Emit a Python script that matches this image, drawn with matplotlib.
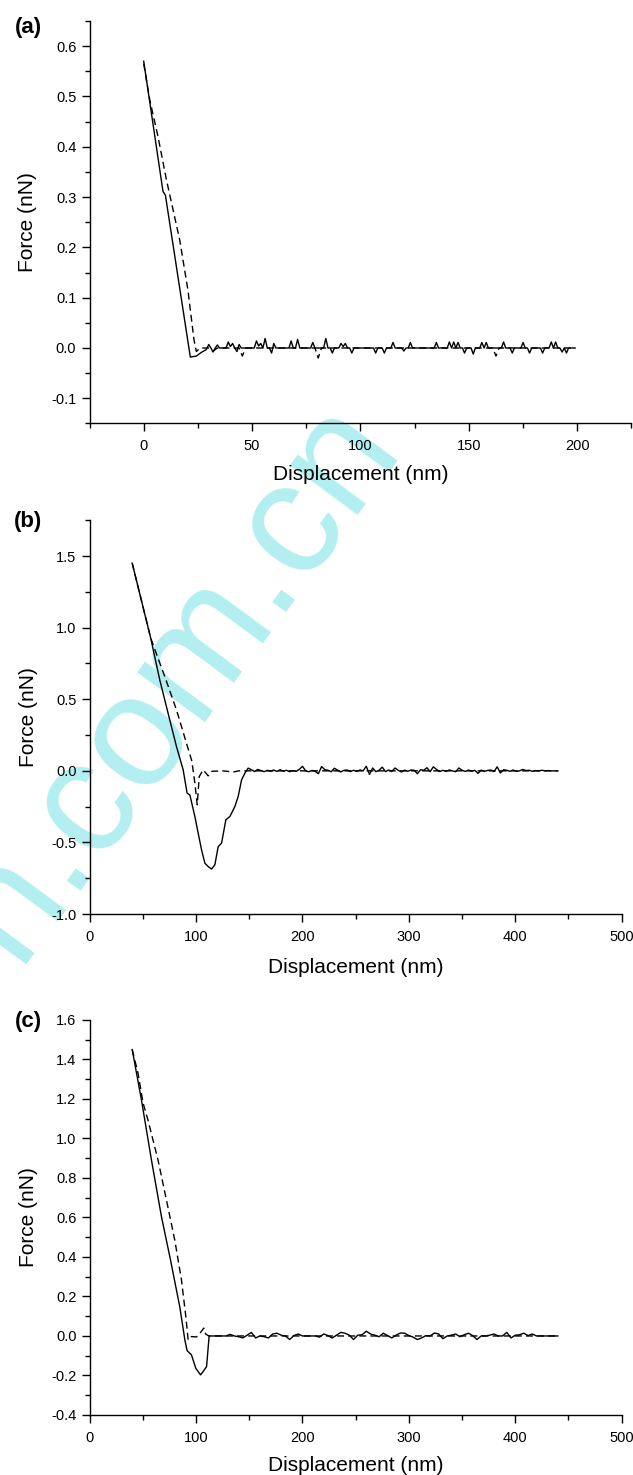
import numpy as np
import matplotlib.pyplot as plt
from matplotlib.ticker import MultipleLocator, FormatStrFormatter
from matplotlib.transforms import Bbox

plt.rcParams['font.family'] = ['Liberation Sans', 'DejaVu Sans']
plt.rcParams['axes.unicode_minus'] = False

# =============================================================================
# Panel (a) - force curves, 0-200 nm
# =============================================================================
a_retract_head_x = [0, 8.9, 10.0, 21.5, 24.3, 26.5, 28.9]
a_retract_head_y = [0.57, 0.311, 0.304, -0.018, -0.016, -0.009, -0.003]
a_noise_x = np.arange(30, 200)          # 1 nm sampling
a_noise_y = [
    0.007, 0, -0.008, 0, 0.006, 0, 0, 0, 0, 0.012,
    0.003, 0.009, 0, -0.007, 0.007, 0, 0, 0, 0, 0,
    0, 0, 0.014, 0.004, 0.009, 0, 0.019, 0, 0, -0.01,
    0.009, 0, 0, 0, 0, 0, 0, 0, 0.014, 0,
    0, 0.017, 0, 0, 0, 0, 0, 0, 0.011, 0,
    0, 0, 0, 0, 0.019, 0, 0, -0.01, 0, 0,
    0, 0.009, 0.003, 0.009, 0, 0, -0.01, 0, 0, 0,
    0, 0, 0, 0, 0, 0, 0, -0.01, 0, 0,
    0, -0.01, 0, 0, 0, 0.011, 0, 0, 0, 0,
    -0.006, 0, 0, 0.011, 0, 0, 0, 0, 0, 0,
    0, 0, 0, 0, 0, 0.011, 0, 0, 0, 0,
    0, 0.012, 0, 0.012, 0, 0.011, 0, 0, -0.01, 0,
    0, 0, -0.012, 0, 0, 0, 0.011, 0, 0.011, 0,
    0, 0, 0, 0, 0, 0, 0.012, 0, 0, 0,
    -0.01, 0, 0, 0, 0, 0.011, 0, 0, -0.01, 0,
    0, 0, 0, 0, -0.01, 0, 0, 0, 0.012, 0,
    0.012, 0, 0, -0.008, 0, -0.01, 0, 0, 0, 0,
]
a_approach_x = [0, 2.8, 6.6, 10.5, 16.6, 20.4, 23.2, 24.3, 26, 30, 32, 34,
                44, 45.5, 47, 79, 80.5, 82, 161, 162.5, 164, 199]
a_approach_y = [0.565, 0.493, 0.42, 0.334, 0.215, 0.115, 0.016, -0.007, 0.0,
                0.0, -0.006, 0.0, 0.0, -0.016, 0.0, 0.0, -0.02, 0.0, 0.0,
                -0.016, 0.0, 0.0]

# =============================================================================
# Panel (b)
# =============================================================================
b_retract_head_x = [40, 57.4, 65.9, 73.7, 81.6, 87.9, 91.6, 94.2, 98.9, 102,
                    105.2, 108.3, 111.4, 114.6, 117.7, 120.8, 124, 128, 131.8,
                    136.5, 139.6, 142.8, 145.9, 149]
b_retract_head_y = [1.45, 0.927, 0.635, 0.403, 0.17, 0.007, -0.156, -0.168,
                    -0.319, -0.435, -0.552, -0.645, -0.668, -0.686, -0.656,
                    -0.529, -0.505, -0.342, -0.319, -0.249, -0.179, -0.063,
                    -0.016, 0.019]
b_noise_x = np.arange(152, 441, 3)      # 3 nm sampling
b_noise_y = [
    0.008, -0.005, 0.01, 0.002, -0.006, 0.004, -0.003, 0.006, -0.004, 0.008,
    -0.003, 0.004, -0.006, 0.002, -0.004, 0.01, 0.032, 0.0, -0.006, 0.003,
    -0.004, -0.02, 0.03, 0.008, 0.004, -0.006, 0.018, 0.005, -0.008, 0.004,
    0.006, -0.005, 0.004, -0.004, 0.006, 0.0, 0.032, -0.025, 0.02, -0.006,
    0.004, 0.026, -0.005, 0.006, -0.004, 0.02, 0.004, -0.008, 0.005, -0.003,
    0.006, 0.004, -0.02, 0.008, 0.004, 0.022, -0.006, 0.028, 0.01, -0.005,
    0.004, -0.004, 0.006, 0.0, -0.006, 0.02, 0.004, -0.004, 0.006, -0.003,
    0.004, -0.018, 0.005, -0.004, 0.003, 0.006, -0.005, 0.028, -0.015, 0.008,
    0.004, -0.003, 0.006, -0.004, 0.0, 0.01, 0.002, 0.004, -0.003, 0.002,
    0.0, 0.004, 0.0, 0.002, 0.0, 0.0, 0.0,
]
b_approach_x = [40, 57.4, 63.7, 70.6, 81.6, 91, 96, 98.9, 101.1, 103, 106.7,
                111.4, 115, 125, 135, 140, 146, 440]
b_approach_y = [1.45, 0.927, 0.798, 0.659, 0.426, 0.193, 0.07, -0.086, -0.237,
                -0.04, 0.007, -0.035, -0.003, 0.0, -0.008, 0.0, 0.0, 0.0]

# =============================================================================
# Panel (c)
# =============================================================================
c_retract_head_x = [40, 48.7, 58.1, 67.5, 76, 84.7, 89.5, 91.6, 95.7, 99.8,
                    104.2, 106.7, 109.9, 112.3]
c_retract_head_y = [1.45, 1.195, 0.891, 0.604, 0.385, 0.148, -0.02, -0.074,
                    -0.096, -0.164, -0.197, -0.18, -0.155, 0.0]
c_noise_x = np.arange(116, 441, 4)      # 4 nm sampling
c_noise_y = [
    0, 0, 0, 0, 0.008, 0, -0.004, -0.01, 0.004, 0.018,
    -0.01, 0, -0.004, -0.01, 0.01, 0.014, 0.004, 0, -0.018, 0.002,
    0.01, 0, 0, 0, 0, -0.006, 0.01, 0.002, -0.01, 0.004,
    0.018, 0.014, 0.004, -0.018, 0.004, 0.006, 0.024, 0.01, 0.004, -0.004,
    0.014, 0.002, -0.01, 0.004, 0.015, 0.014, 0.002, -0.006, -0.018, -0.01,
    0.002, 0, 0.015, 0.01, -0.014, 0, 0.004, 0.01, -0.004, 0.006,
    0.014, 0.002, -0.018, 0, 0, 0.004, 0.01, 0, 0, 0.018,
    -0.01, 0.004, 0.006, 0.014, 0.002, 0.01, 0, 0, 0, 0,
    0, 0,
]
c_approach_x = [40, 45.5, 50.2, 54.9, 64.3, 72.2, 80, 86.3, 90.4, 92.6, 95.7,
                100.4, 103.6, 107.3, 109, 112, 440]
c_approach_y = [1.45, 1.33, 1.18, 1.092, 0.89, 0.688, 0.486, 0.284, 0.098,
                -0.02, -0.003, -0.005, 0.013, 0.04, 0.01, 0.0, 0.0]

# =============================================================================
# Layout (figure fractions) and axis settings
# =============================================================================
W, H = 633, 1475
panels = [
    dict(tag='(a)', rect=[0.1414, 0.7129, 0.8562, 0.2729], tag_xy=(28, 28),
         xlim=(-25, 225), ylim=(-0.15, 0.65), xmaj=50, xmin=25,
         ymaj=0.1, ymin=0.05, xlab_y=-0.128, ylab_x=-0.1135,
         rx=(a_retract_head_x, a_noise_x), ry=(a_retract_head_y, a_noise_y),
         ax_=a_approach_x, ay_=a_approach_y),
    dict(tag='(b)', rect=[0.1416, 0.3803, 0.8405, 0.2670], tag_xy=(28, 522),
         xlim=(0, 500), ylim=(-1.0, 1.75), xmaj=100, xmin=50,
         ymaj=0.5, ymin=0.25, xlab_y=-0.1346, ylab_x=-0.1158,
         rx=(b_retract_head_x, b_noise_x), ry=(b_retract_head_y, b_noise_y),
         ax_=b_approach_x, ay_=b_approach_y),
    dict(tag='(c)', rect=[0.1416, 0.0407, 0.8405, 0.2678], tag_xy=(28, 1021),
         xlim=(0, 500), ylim=(-0.4, 1.6), xmaj=100, xmin=50,
         ymaj=0.2, ymin=0.1, xlab_y=-0.127, ylab_x=-0.1158,
         rx=(c_retract_head_x, c_noise_x), ry=(c_retract_head_y, c_noise_y),
         ax_=c_approach_x, ay_=c_approach_y),
]

fig = plt.figure(figsize=(W / 100, H / 100), dpi=100)

# watermark, sits behind the axes and is clipped to the middle image
wm = fig.text(15.6 / W, 1 - 965 / H, "n.com.cn", rotation=53.6,
              rotation_mode='anchor', ha='left', va='baseline',
              fontsize=115, color='#b3eff0', zorder=-1)
wm.set_clip_box(Bbox.from_extents(0, H - 1000, W, H - 413))
wm.set_clip_on(True)

for p in panels:
    ax = fig.add_axes(p['rect'])
    ax.set_facecolor('none')

    xr = np.concatenate([p['rx'][0], p['rx'][1]])
    yr = np.concatenate([p['ry'][0], p['ry'][1]])
    ax.plot(p['ax_'], p['ay_'], color='black', lw=1.0, linestyle=(0, (5, 3)))
    ax.plot(xr, yr, color='black', lw=1.0)

    ax.set_xlim(*p['xlim'])
    ax.set_ylim(*p['ylim'])
    ax.xaxis.set_major_locator(MultipleLocator(p['xmaj']))
    ax.xaxis.set_minor_locator(MultipleLocator(p['xmin']))
    ax.yaxis.set_major_locator(MultipleLocator(p['ymaj']))
    ax.yaxis.set_minor_locator(MultipleLocator(p['ymin']))
    ax.yaxis.set_major_formatter(FormatStrFormatter('%.1f'))
    ax.xaxis.set_major_formatter(FormatStrFormatter('%d'))
    if p['tag'] == '(a)':
        ax.set_xticks([0, 50, 100, 150, 200])

    for s in ['top', 'right']:
        ax.spines[s].set_visible(False)
    for s in ['left', 'bottom']:
        ax.spines[s].set_linewidth(1.0)
    ax.tick_params(which='major', direction='out', length=5.5, width=1.0,
                   labelsize=10.5)
    ax.tick_params(axis='x', which='major', pad=6)
    ax.tick_params(axis='y', which='major', pad=4)
    ax.tick_params(which='minor', direction='out', length=3.5, width=1.0)

    ax.set_xlabel("Displacement (nm)", fontsize=15)
    ax.set_ylabel("Force (nN)", fontsize=15)
    ax.xaxis.set_label_coords(0.5, p['xlab_y'])
    ax.xaxis.label.set_va('center')
    ax.yaxis.set_label_coords(p['ylab_x'], 0.5)
    ax.yaxis.label.set_va('center')

    fig.text(p['tag_xy'][0] / W, 1 - p['tag_xy'][1] / H, p['tag'],
             fontsize=16, fontweight='bold', ha='center', va='center')

plt.savefig("out.png", dpi=100)
